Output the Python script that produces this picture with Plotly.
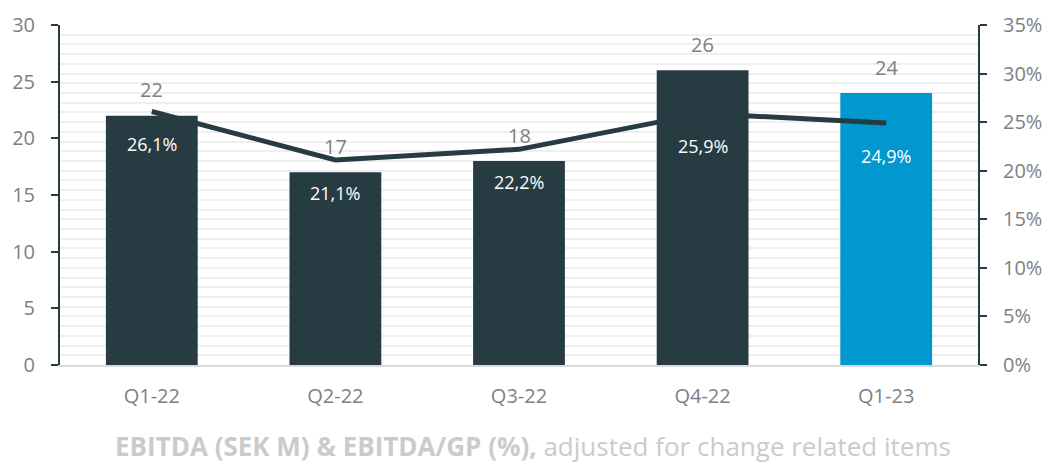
import plotly.graph_objects as go

categories = ["Q1-22", "Q2-22", "Q3-22", "Q4-22", "Q1-23"]
ebitda = [22, 17, 18, 26, 24]
margin_pct = [26.1, 21.1, 22.2, 25.9, 24.9]
margin_labels = ["26,1%", "21,1%", "22,2%", "25,9%", "24,9%"]
bar_colors = ["#273b43", "#273b43", "#273b43", "#273b43", "#0098ce"]

FONT = "Open Sans"
DARK = "#273b43"
GRAY = "#7f7f7f"

fig = go.Figure()
fig.add_trace(go.Bar(x=categories, y=ebitda, marker=dict(color=bar_colors, line_width=0),
                     yaxis="y", hoverinfo="skip"))
fig.add_trace(go.Scatter(x=categories, y=margin_pct, mode="lines",
                         line=dict(color=DARK, width=5), yaxis="y2", hoverinfo="skip"))

annotations = []
for c, v in zip(categories, ebitda):
    annotations.append(dict(x=c, y=v, xref="x", yref="y", text=str(v), showarrow=False,
                            yanchor="middle", yshift=26, font=dict(family=FONT, size=20, color=GRAY)))
for c, v, t in zip(categories, margin_pct, margin_labels):
    annotations.append(dict(x=c, y=v, xref="x", yref="y2", text=t, showarrow=False,
                            yanchor="middle", yshift=-33, font=dict(family=FONT, size=18, color="white")))
annotations.append(dict(x=0.515, y=-0.238, xref="paper", yref="paper", showarrow=False,
                        xanchor="center", yanchor="middle",
                        text="<b>EBITDA (SEK M) &amp; EBITDA/GP (%),</b> adjusted for change related items",
                        font=dict(family=FONT, size=26, color="#cbcbcb")))

fig.update_layout(
    width=1045, height=468,
    margin=dict(l=60, r=67, t=25, b=103),
    paper_bgcolor="white", plot_bgcolor="white",
    showlegend=False, bargap=0.5,
    font=dict(family=FONT, color=GRAY),
    annotations=annotations,
    xaxis=dict(showline=True, linecolor="#d9d9d9", linewidth=2, ticks="", showgrid=False,
               automargin=False,
               tickfont=dict(family=FONT, size=20, color=GRAY), ticklabelstandoff=12),
    yaxis=dict(range=[0, 30], dtick=5, showgrid=False, showline=True, linecolor=DARK, linewidth=2,
               ticks="outside", ticklen=7, tickwidth=2, tickcolor=DARK, zeroline=False,
               automargin=False,
               tickfont=dict(family=FONT, size=20, color=GRAY), ticklabelstandoff=12),
    yaxis2=dict(range=[0, 35], dtick=5, overlaying="y", side="right", showline=True,
                linecolor=DARK, linewidth=2, ticks="outside", ticklen=7, tickwidth=2, tickcolor=DARK,
                ticksuffix="%", zeroline=False, showgrid=True, gridcolor="#efefef", gridwidth=2,
                automargin=False,
                minor=dict(dtick=1, showgrid=True, gridcolor="#efefef", gridwidth=2),
                tickfont=dict(family=FONT, size=20, color=GRAY), ticklabelstandoff=12),
)

fig.write_html("out.html")
